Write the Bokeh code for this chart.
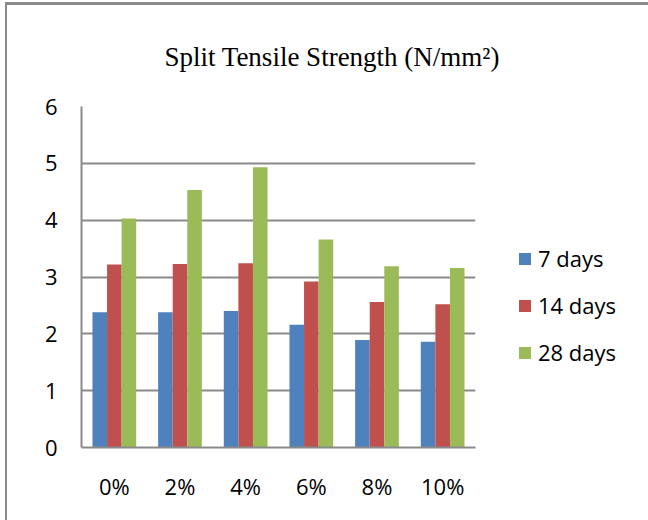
from bokeh.plotting import figure
from bokeh.models import Legend, LegendItem, FactorRange, Range1d, ColumnDataSource
from bokeh.transform import dodge
from bokeh.embed import file_html
from bokeh.resources import INLINE

categories = ["0%", "2%", "4%", "6%", "8%", "10%"]
days7 = [2.38, 2.38, 2.40, 2.16, 1.89, 1.86]
days14 = [3.22, 3.23, 3.24, 2.92, 2.56, 2.52]
days28 = [4.03, 4.53, 4.93, 3.66, 3.19, 3.16]
series_names = ["7 days", "14 days", "28 days"]
colors = ["#4F81BD", "#C0504D", "#9BBB59"]
y_ticks = [0, 1, 2, 3, 4, 5, 6]
title_text = "Split Tensile Strength (N/mm\u00b2)"

GRAY = "#8a8a8a"
FONT = "Open Sans"

src = ColumnDataSource(dict(cat=categories, d7=days7, d14=days14, d28=days28))

p = figure(x_range=FactorRange(*categories, range_padding=0),
           y_range=Range1d(0, 6),
           frame_width=394, frame_height=341,
           min_border_left=74, min_border_top=83, min_border_bottom=82,
           min_border_right=165,
           output_backend="svg", toolbar_location=None)

p.title.text = title_text
p.title.text_font = "Liberation Serif"
p.title.text_font_size = "27px"
p.title.text_font_style = "normal"
p.title.text_color = "#000000"
p.title.align = "left"
p.title.offset = 83
p.title.standoff = 69

bar_w = 0.222
fields = ["d7", "d14", "d28"]
offsets = [-bar_w, 0, bar_w]
items = []
for f, c, off, name in zip(fields, colors, offsets, series_names):
    r = p.vbar(x=dodge("cat", off, range=p.x_range), top=f, width=bar_w,
               source=src, fill_color=c, line_color=None)
    items.append(LegendItem(label=name, renderers=[r]))

legend = Legend(items=items, location=(42, 80), orientation="vertical",
                glyph_width=15, glyph_height=15, label_standoff=6, spacing=17,
                padding=0, margin=0, border_line_color=None,
                background_fill_alpha=0,
                label_text_font=FONT, label_text_font_size="22px",
                label_text_color="#000000")
p.add_layout(legend, "right")

p.outline_line_color = None
p.xgrid.grid_line_color = None
p.ygrid.grid_line_color = GRAY
p.ygrid.grid_line_width = 2
p.yaxis.ticker = y_ticks

for ax in (p.xaxis[0], p.yaxis[0]):
    ax.axis_line_color = GRAY
    ax.axis_line_width = 2
    ax.major_tick_line_color = None
    ax.minor_tick_line_color = None
    ax.major_tick_out = 0
    ax.major_tick_in = 0
    ax.major_label_text_font = FONT
    ax.major_label_text_font_size = "22px"
    ax.major_label_text_color = "#000000"

p.yaxis.major_label_standoff = 24
p.xaxis.major_label_standoff = 23

p.styles = {"transform": "translate(5px, 2px)",
            "border-left": "2px solid #8a8a8a", "border-top": "3px solid #8a8a8a",
            "border-right": "2px solid #8a8a8a"}

open("out.html", "w").write(file_html(p, INLINE))
